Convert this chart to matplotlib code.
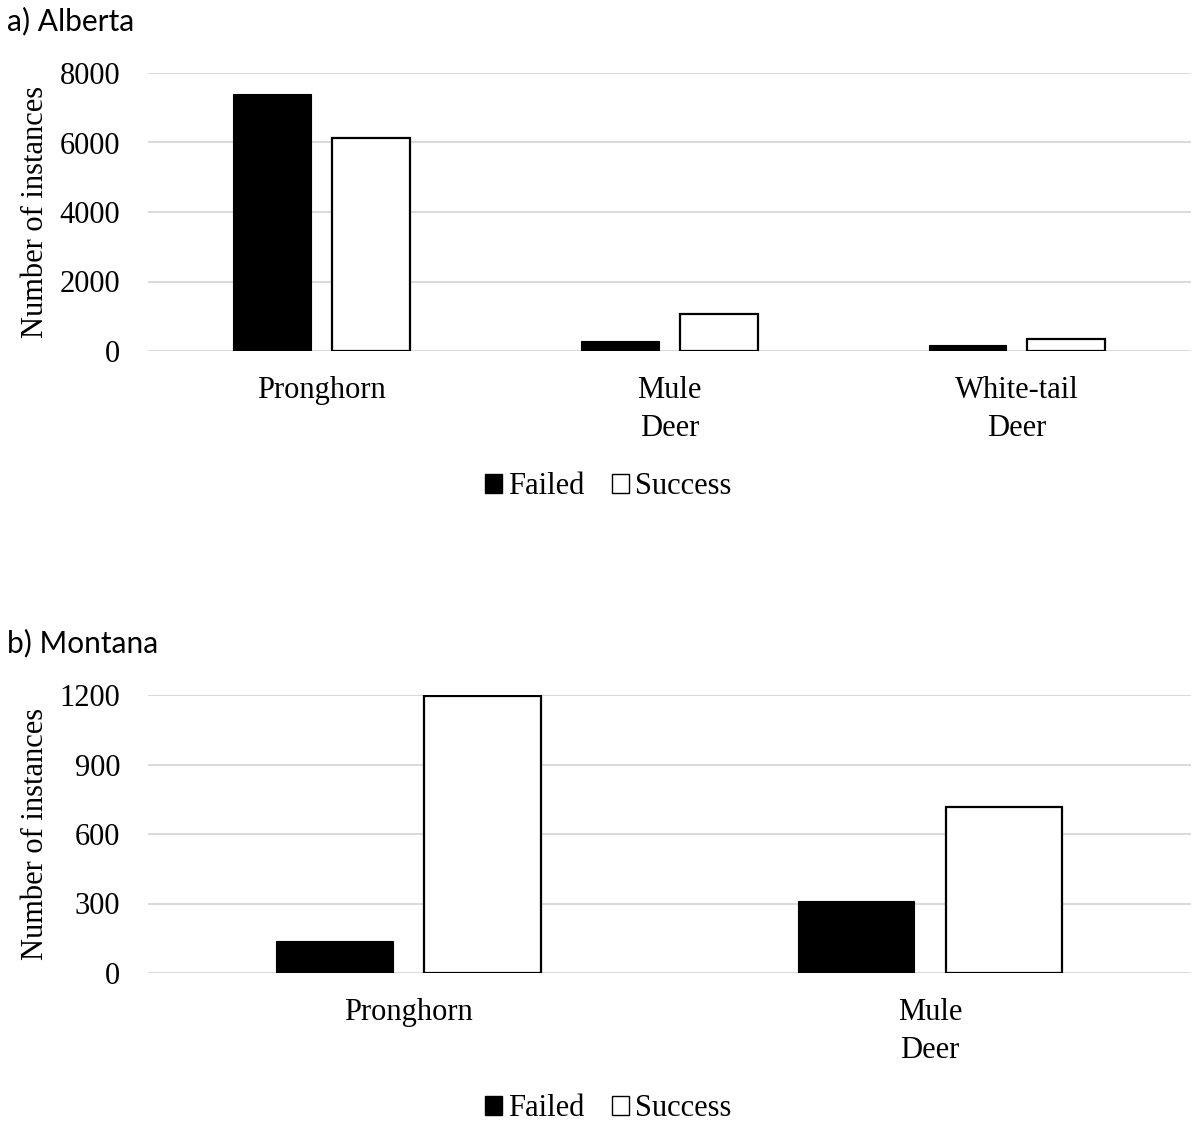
import matplotlib
matplotlib.use("Agg")
import matplotlib.pyplot as plt
from matplotlib.patches import Patch
import numpy as np

# Alberta
ab_species = ["Pronghorn", "Mule\nDeer", "White-tail\nDeer"]
ab_failed = [7390, 280, 165]
ab_success = [6130, 1065, 340]
ab_ticks = [0, 2000, 4000, 6000, 8000]

# Montana
mt_species = ["Pronghorn", "Mule\nDeer"]
mt_failed = [140, 311]
mt_success = [1197, 716]
mt_ticks = [0, 300, 600, 900, 1200]

serif = "Liberation Serif"
fs = 22

fig = plt.figure(figsize=(11.93, 11.24), dpi=100)


def panel(rect, species, failed, success, ticks, title, title_y, legend_y):
    ax = fig.add_axes(rect)
    x = np.arange(len(species))
    w = 0.224
    off = 0.142
    ax.bar(x - off, failed, w, color="black", edgecolor="black", linewidth=0.8, zorder=3)
    ax.bar(x + off, success, w, color="white", edgecolor="black", linewidth=1.6, zorder=3)
    ax.set_xlim(-0.5, len(species) - 0.5)
    ax.set_ylim(0, ticks[-1])
    ax.set_yticks(ticks)
    ax.set_yticklabels([str(t) for t in ticks], fontfamily=serif, fontsize=fs)
    ax.set_xticks(x)
    ax.set_xticklabels(species, fontfamily=serif, fontsize=fs, linespacing=1.42)
    ax.tick_params(length=0)
    ax.tick_params(axis="y", pad=20)
    ax.tick_params(axis="x", pad=18)
    ax.yaxis.grid(True, color="#d9d9d9", linewidth=1.4, zorder=0)
    for s in ax.spines.values():
        s.set_visible(False)
    ax.set_ylabel("Number of instances", fontfamily=serif, fontsize=fs)
    ax.yaxis.set_label_coords(-0.094, 0.5)
    fig.text(0.006, title_y, title, fontfamily="Lato", fontsize=21.5, va="center", ha="left")
    handles = [Patch(facecolor="black", edgecolor="black", label="Failed"),
               Patch(facecolor="white", edgecolor="black", linewidth=1.0, label="Success")]
    fig.legend(handles=handles, loc="center", bbox_to_anchor=(0.51, legend_y), ncol=2,
               frameon=False, prop={"family": serif, "size": fs},
               handlelength=0.55, handleheight=0.55, handletextpad=0.2, columnspacing=0.9)
    return ax


panel([0.124, 1 - 351 / 1124, 0.874, 278 / 1124], ab_species, ab_failed, ab_success,
      ab_ticks, "a) Alberta", 1 - 21 / 1124, 1 - 487 / 1124)
panel([0.124, 1 - 973 / 1124, 0.874, 278 / 1124], mt_species, mt_failed, mt_success,
      mt_ticks, "b) Montana", 1 - 643 / 1124, 1 - 1109 / 1124)

fig.savefig("out.png", dpi=100)
